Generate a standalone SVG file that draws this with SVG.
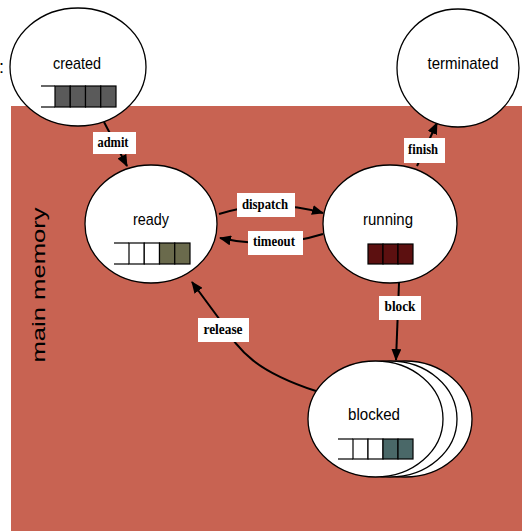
<svg xmlns="http://www.w3.org/2000/svg" width="522" height="531" viewBox="0 0 522 531">
<defs>
<marker id="ah" viewBox="0 0 12 10" refX="11" refY="5" markerWidth="12" markerHeight="10" markerUnits="userSpaceOnUse" orient="auto">
<path d="M0,0 L12,5 L0,10 Z" fill="#000"/>
</marker>
<style>
.st{fill:#fff;stroke:#000;stroke-width:1.3}
.nt{font-family:"Liberation Sans",Arial,sans-serif;font-size:17px;fill:#000;text-anchor:middle}
.lb{fill:#fff}
.lt{font-family:"Liberation Serif","Times New Roman",serif;font-weight:bold;font-size:14px;fill:#000;text-anchor:middle}
.cn{fill:none;stroke:#000;stroke-width:2}
.q{stroke:#000;stroke-width:1.2}
</style>
</defs>
<rect width="522" height="531" fill="#fff"/>
<rect x="11" y="106" width="511" height="425" fill="#c86352"/>
<text x="-1" y="73" font-family="Liberation Sans, Arial, sans-serif" font-size="18" fill="#000">:</text>
<text transform="translate(45,285) rotate(-90)" font-family="Liberation Sans, Arial, sans-serif" font-size="19" fill="#000" text-anchor="middle" textLength="155" lengthAdjust="spacingAndGlyphs">main memory</text>

<g id="connectors">
<path class="cn" d="M104,122 L127,166" marker-end="url(#ah)"/>
<path class="cn" d="M417,166 L437,123" marker-end="url(#ah)"/>
<path class="cn" d="M219,214 Q270,198 323,213" marker-end="url(#ah)"/>
<path class="cn" d="M323,234 Q272,250 220,238" marker-end="url(#ah)"/>
<path class="cn" d="M399,283 L396,360" marker-end="url(#ah)"/>
<path class="cn" d="M316,391 C258,372 238,352 220,320 L192,282" marker-end="url(#ah)"/>
<rect class="lb" x="93" y="132" width="43" height="22"/>
<text class="lt" x="113" y="147" textLength="31" lengthAdjust="spacingAndGlyphs">admit</text>
<rect class="lb" x="404" y="138" width="41" height="25"/>
<text class="lt" x="423" y="154" textLength="30" lengthAdjust="spacingAndGlyphs">finish</text>
<rect class="lb" x="237" y="193" width="58" height="24"/>
<text class="lt" x="265" y="209" textLength="46" lengthAdjust="spacingAndGlyphs">dispatch</text>
<rect class="lb" x="248" y="231" width="55" height="24"/>
<text class="lt" x="274" y="246" textLength="42" lengthAdjust="spacingAndGlyphs">timeout</text>
<rect class="lb" x="379" y="296" width="42" height="24"/>
<text class="lt" x="400" y="311" textLength="31" lengthAdjust="spacingAndGlyphs">block</text>
<rect class="lb" x="198" y="318" width="51" height="24"/>
<text class="lt" x="223" y="334" textLength="39" lengthAdjust="spacingAndGlyphs">release</text>
</g>

<g id="created">
<ellipse class="st" cx="78" cy="67" rx="68" ry="59"/>
<text class="nt" x="77" y="69" textLength="48" lengthAdjust="spacingAndGlyphs">created</text>
<line class="q" x1="41" y1="86" x2="55" y2="86"/>
<line class="q" x1="41" y1="107" x2="55" y2="107"/>
<rect class="q" x="55" y="86" width="15.25" height="21" fill="#5a5a5a"/>
<rect class="q" x="70.25" y="86" width="15.25" height="21" fill="#5a5a5a"/>
<rect class="q" x="85.5" y="86" width="15.25" height="21" fill="#5a5a5a"/>
<rect class="q" x="100.75" y="86" width="15.25" height="21" fill="#5a5a5a"/>
</g>

<g id="terminated">
<ellipse class="st" cx="458" cy="68" rx="61" ry="59"/>
<text class="nt" x="463" y="69" textLength="71" lengthAdjust="spacingAndGlyphs">terminated</text>
</g>

<g id="ready">
<ellipse class="st" cx="151" cy="224" rx="66" ry="59"/>
<text class="nt" x="151" y="225" textLength="36" lengthAdjust="spacingAndGlyphs">ready</text>
<line class="q" x1="114" y1="243" x2="129" y2="243"/>
<line class="q" x1="114" y1="264" x2="129" y2="264"/>
<rect class="q" x="129" y="243" width="15.25" height="21" fill="#fff"/>
<rect class="q" x="144.25" y="243" width="15.25" height="21" fill="#fff"/>
<rect class="q" x="159.5" y="243" width="15.25" height="21" fill="#6a6a4c"/>
<rect class="q" x="174.75" y="243" width="15.25" height="21" fill="#6a6a4c"/>
</g>

<g id="running">
<ellipse class="st" cx="390" cy="224" rx="67" ry="59"/>
<text class="nt" x="388" y="225" textLength="50" lengthAdjust="spacingAndGlyphs">running</text>
<rect class="q" x="368" y="244" width="15" height="20" fill="#5c1010"/>
<rect class="q" x="383" y="244" width="15" height="20" fill="#5c1010"/>
<rect class="q" x="398" y="244" width="15" height="20" fill="#5c1010"/>
</g>

<g id="blocked">
<ellipse class="st" cx="405" cy="419" rx="67" ry="58"/>
<ellipse class="st" cx="390" cy="419" rx="67" ry="58"/>
<ellipse class="st" cx="375.5" cy="419" rx="67.5" ry="58"/>
<text class="nt" x="374" y="420" textLength="52" lengthAdjust="spacingAndGlyphs">blocked</text>
<line class="q" x1="338" y1="439" x2="353" y2="439"/>
<line class="q" x1="338" y1="459" x2="353" y2="459"/>
<rect class="q" x="353" y="439" width="15" height="20" fill="#fff"/>
<rect class="q" x="368" y="439" width="15" height="20" fill="#fff"/>
<rect class="q" x="383" y="439" width="15" height="20" fill="#4a6868"/>
<rect class="q" x="398" y="439" width="15" height="20" fill="#4a6868"/>
</g>
</svg>
